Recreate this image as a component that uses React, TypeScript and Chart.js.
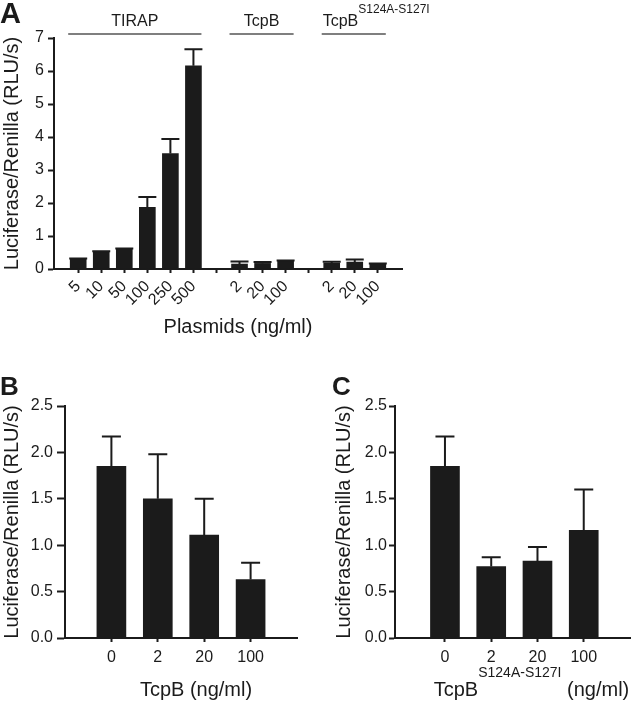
import React, { useEffect, useRef } from 'react';
import { Chart, registerables } from 'chart.js';

Chart.register(...registerables);

const FONT = '"Liberation Sans", Arial, Helvetica, sans-serif';
const INK = '#1b1b1b';

// ---------- Panel A data ----------
const tirapDoses = ['5', '10', '50', '100', '250', '500'];
const tirapValues = [0.3, 0.52, 0.6, 1.87, 3.5, 6.16];
const tirapErrors = [0.02, 0.02, 0.02, 0.31, 0.44, 0.5];
const tcpbDoses = ['2', '20', '100'];
const tcpbValues = [0.15, 0.17, 0.24];
const tcpbErrors = [0.08, 0.04, 0.02];
const mutDoses = ['2', '20', '100'];
const mutValues = [0.18, 0.21, 0.15];
const mutErrors = [0.04, 0.08, 0.02];
const groupNames = ['TIRAP', 'TcpB', 'TcpB'];
const groupSups = ['', '', 'S124A-S127I'];
const aYMax = 7;
const aYStep = 1;

// ---------- Panel B data ----------
const bDoses = ['0', '2', '20', '100'];
const bValues = [1.85, 1.5, 1.11, 0.63];
const bErrors = [0.32, 0.48, 0.39, 0.18];

// ---------- Panel C data ----------
const cDoses = ['0', '2', '20', '100'];
const cValues = [1.85, 0.77, 0.83, 1.16];
const cErrors = [0.32, 0.1, 0.15, 0.44];
const bcYMax = 2.5;
const bcYStep = 0.5;

const yTitle = 'Luciferase/Renilla (RLU/s)';

type Part = { text: string; size: number; rise?: number; bold?: boolean };

function partsWidth(ctx: CanvasRenderingContext2D, parts: Part[]) {
  let w = 0;
  parts.forEach((p) => {
    ctx.font = `${p.bold ? 'bold ' : ''}${p.size}px ${FONT}`;
    w += ctx.measureText(p.text).width;
  });
  return w;
}

function drawParts(ctx: CanvasRenderingContext2D, parts: Part[], x0: number, baseline: number) {
  let x = x0;
  ctx.textAlign = 'left';
  ctx.textBaseline = 'alphabetic';
  ctx.fillStyle = INK;
  parts.forEach((p) => {
    ctx.font = `${p.bold ? 'bold ' : ''}${p.size}px ${FONT}`;
    ctx.fillText(p.text, x, baseline - (p.rise || 0));
    x += ctx.measureText(p.text).width;
  });
}

function makeErrorPlugin(errors: number[], capHalf: number) {
  return {
    id: 'errorBars',
    afterDatasetsDraw(chart: any) {
      const meta = chart.getDatasetMeta(0);
      const ys = chart.scales.y;
      const data = chart.data.datasets[0].data;
      const ctx = chart.ctx as CanvasRenderingContext2D;
      ctx.save();
      ctx.strokeStyle = INK;
      ctx.lineWidth = 2;
      meta.data.forEach((el: any, i: number) => {
        const d = data[i];
        const v = typeof d === 'number' ? d : d.y;
        const top = ys.getPixelForValue(v + errors[i]);
        ctx.beginPath();
        ctx.moveTo(el.x, el.y);
        ctx.lineTo(el.x, top);
        ctx.moveTo(el.x - capHalf, top);
        ctx.lineTo(el.x + capHalf, top);
        ctx.stroke();
      });
      ctx.restore();
    },
  };
}

type Decor = {
  letter: string;
  letterSize: number;
  letterX: number;
  letterY: number;
  title: Part[];
  titleDx: number;
  titleBaseline: number;
  groups?: { name: string; sup: string; from: number; to: number }[];
};

function makeDecorPlugin(cfg: Decor) {
  return {
    id: 'decor',
    afterDraw(chart: any) {
      const ctx = chart.ctx as CanvasRenderingContext2D;
      const area = chart.chartArea;
      ctx.save();
      drawParts(ctx, [{ text: cfg.letter, size: cfg.letterSize, bold: true }], cfg.letterX, cfg.letterY);
      const w = partsWidth(ctx, cfg.title);
      const cx = (area.left + area.right) / 2 + cfg.titleDx;
      drawParts(ctx, cfg.title, cx - w / 2, cfg.titleBaseline);
      if (cfg.groups) {
        const xs = chart.scales.x;
        cfg.groups.forEach((g) => {
          const x1 = xs.getPixelForValue(g.from) - 10;
          const x2 = xs.getPixelForValue(g.to) + 8;
          ctx.strokeStyle = '#555';
          ctx.lineWidth = 1.5;
          ctx.beginPath();
          ctx.moveTo(x1, 34);
          ctx.lineTo(x2, 34);
          ctx.stroke();
          if (g.sup) {
            drawParts(ctx, [{ text: g.name, size: 16 }, { text: g.sup, size: 12, rise: 13 }], x1 + 1, 26);
          } else {
            const parts = [{ text: g.name, size: 16 }];
            const gw = partsWidth(ctx, parts);
            drawParts(ctx, parts, (x1 + x2) / 2 - gw / 2, 26);
          }
        });
      }
      ctx.restore();
    },
  };
}

function yScale(max: number, step: number, width: number, tickLen: number, pad: number, titlePad: number, decimals: number) {
  return {
    min: 0,
    max,
    afterFit: (s: any) => {
      s.width = width;
    },
    ticks: {
      stepSize: step,
      color: INK,
      padding: pad,
      font: { family: FONT, size: 16 },
      callback: (v: any) => Number(v).toFixed(decimals),
    },
    grid: { drawOnChartArea: false, drawTicks: true, tickLength: tickLen, tickColor: INK, tickWidth: 2 },
    border: { display: true, color: INK, width: 2 },
    title: {
      display: true,
      text: yTitle,
      color: INK,
      font: { family: FONT, size: 20 },
      padding: { top: titlePad, bottom: 0 },
    },
  };
}

function xScale(min: number, max: number, positions: number[], labels: Map<number, string>, height: number, rotate: boolean, pad: number) {
  return {
    type: 'linear',
    min,
    max,
    offset: false,
    afterBuildTicks: (s: any) => {
      s.ticks = positions.map((v) => ({ value: v }));
    },
    afterFit: (s: any) => {
      s.height = height;
    },
    ticks: {
      autoSkip: false,
      color: INK,
      padding: pad,
      minRotation: rotate ? 45 : 0,
      maxRotation: rotate ? 45 : 0,
      font: { family: FONT, size: 16 },
      callback: (v: any) => labels.get(Number(v)) ?? '',
    },
    grid: { offset: false, drawOnChartArea: false, drawTicks: true, tickLength: 4, tickColor: INK, tickWidth: 2 },
    border: { display: true, color: INK, width: 2 },
  };
}

function baseOptions(padding: any, scales: any) {
  return {
    responsive: false,
    animation: false,
    devicePixelRatio: 1,
    layout: { padding },
    plugins: { legend: { display: false }, tooltip: { enabled: false } },
    scales,
  };
}

function configA() {
  const groups = [
    { name: groupNames[0], sup: groupSups[0], doses: tirapDoses, values: tirapValues, errors: tirapErrors },
    { name: groupNames[1], sup: groupSups[1], doses: tcpbDoses, values: tcpbValues, errors: tcpbErrors },
    { name: groupNames[2], sup: groupSups[2], doses: mutDoses, values: mutValues, errors: mutErrors },
  ];
  let pos = 0;
  const points: { x: number; y: number }[] = [];
  const errs: number[] = [];
  const labels = new Map<number, string>();
  const spans: { name: string; sup: string; from: number; to: number }[] = [];
  groups.forEach((g, gi) => {
    if (gi > 0) {
      labels.set(pos, '');
      pos += 1;
    }
    const start = pos;
    g.doses.forEach((d, i) => {
      points.push({ x: pos, y: g.values[i] });
      errs.push(g.errors[i]);
      labels.set(pos, d);
      pos += 1;
    });
    spans.push({ name: g.name, sup: g.sup, from: start, to: pos - 1 });
  });
  const positions = Array.from(labels.keys()).sort((a, b) => a - b);
  return {
    type: 'bar',
    data: {
      datasets: [{ data: points, backgroundColor: INK, borderWidth: 0, barThickness: 16 }],
    },
    options: baseOptions(
      { top: 38, right: 58, bottom: 0, left: 0 },
      {
        x: xScale(-1.05, pos - 1 + 1.05, positions, labels, 76, true, 4),
        y: yScale(aYMax, aYStep, 54, 6, 4, 0, 0),
      }
    ),
    plugins: [
      makeErrorPlugin(errs, 9),
      makeDecorPlugin({
        letter: 'A',
        letterSize: 29,
        letterX: 0,
        letterY: 23,
        title: [{ text: 'Plasmids (ng/ml)', size: 20 }],
        titleDx: 10,
        titleBaseline: 333,
        groups: spans,
      }),
    ],
  };
}

function configBC(doses: string[], values: number[], errors: number[], letter: string, letterX: number, title: Part[], titleDx: number, xMin: number, yWidth: number, yTick: number, yPad: number, yTitlePad: number, rightPad: number) {
  const labels = new Map<number, string>();
  const points = doses.map((d, i) => {
    labels.set(i + 1, d);
    return { x: i + 1, y: values[i] };
  });
  const positions = doses.map((_, i) => i + 1);
  return {
    type: 'bar',
    data: {
      datasets: [{ data: points, backgroundColor: INK, borderWidth: 0, barThickness: 29 }],
    },
    options: baseOptions(
      { top: 36, right: rightPad, bottom: 0, left: 0 },
      {
        x: xScale(xMin, doses.length + 1, positions, labels, 64, false, 6),
        y: yScale(bcYMax, bcYStep, yWidth, yTick, yPad, yTitlePad, 1),
      }
    ),
    plugins: [
      makeErrorPlugin(errors, 9.5),
      makeDecorPlugin({
        letter,
        letterSize: 26,
        letterX,
        letterY: 25,
        title,
        titleDx,
        titleBaseline: 326,
      }),
    ],
  };
}

export default function App() {
  const aRef = useRef<HTMLCanvasElement>(null);
  const bRef = useRef<HTMLCanvasElement>(null);
  const cRef = useRef<HTMLCanvasElement>(null);

  useEffect(() => {
    const charts: Chart[] = [];
    if (aRef.current) charts.push(new Chart(aRef.current, configA() as any));
    if (bRef.current)
      charts.push(
        new Chart(
          bRef.current,
          configBC(bDoses, bValues, bErrors, 'B', 0, [{ text: 'TcpB (ng/ml)', size: 20 }], 15, 0, 65, 8, 4, 0, 13) as any
        )
      );
    if (cRef.current)
      charts.push(
        new Chart(
          cRef.current,
          configBC(
            cDoses,
            cValues,
            cErrors,
            'C',
            2,
            [
              { text: 'TcpB', size: 20 },
              { text: 'S124A-S127I', size: 14, rise: 19 },
              { text: ' (ng/ml)', size: 20 },
            ],
            19,
            -0.08,
            65,
            6,
            2,
            2,
            3
          ) as any
        )
      );
    return () => charts.forEach((c) => c.destroy());
  }, []);

  return (
    <div style={{ position: 'absolute', left: 0, top: 0, width: 633, height: 702, background: '#fff', overflow: 'hidden' }}>
      <canvas ref={aRef} width={460} height={345} style={{ position: 'absolute', left: 0, top: 0, width: 460, height: 345 }} />
      <canvas ref={bRef} width={310} height={332} style={{ position: 'absolute', left: 0, top: 370, width: 310, height: 332 }} />
      <canvas ref={cRef} width={303} height={332} style={{ position: 'absolute', left: 330, top: 370, width: 303, height: 332 }} />
    </div>
  );
}
